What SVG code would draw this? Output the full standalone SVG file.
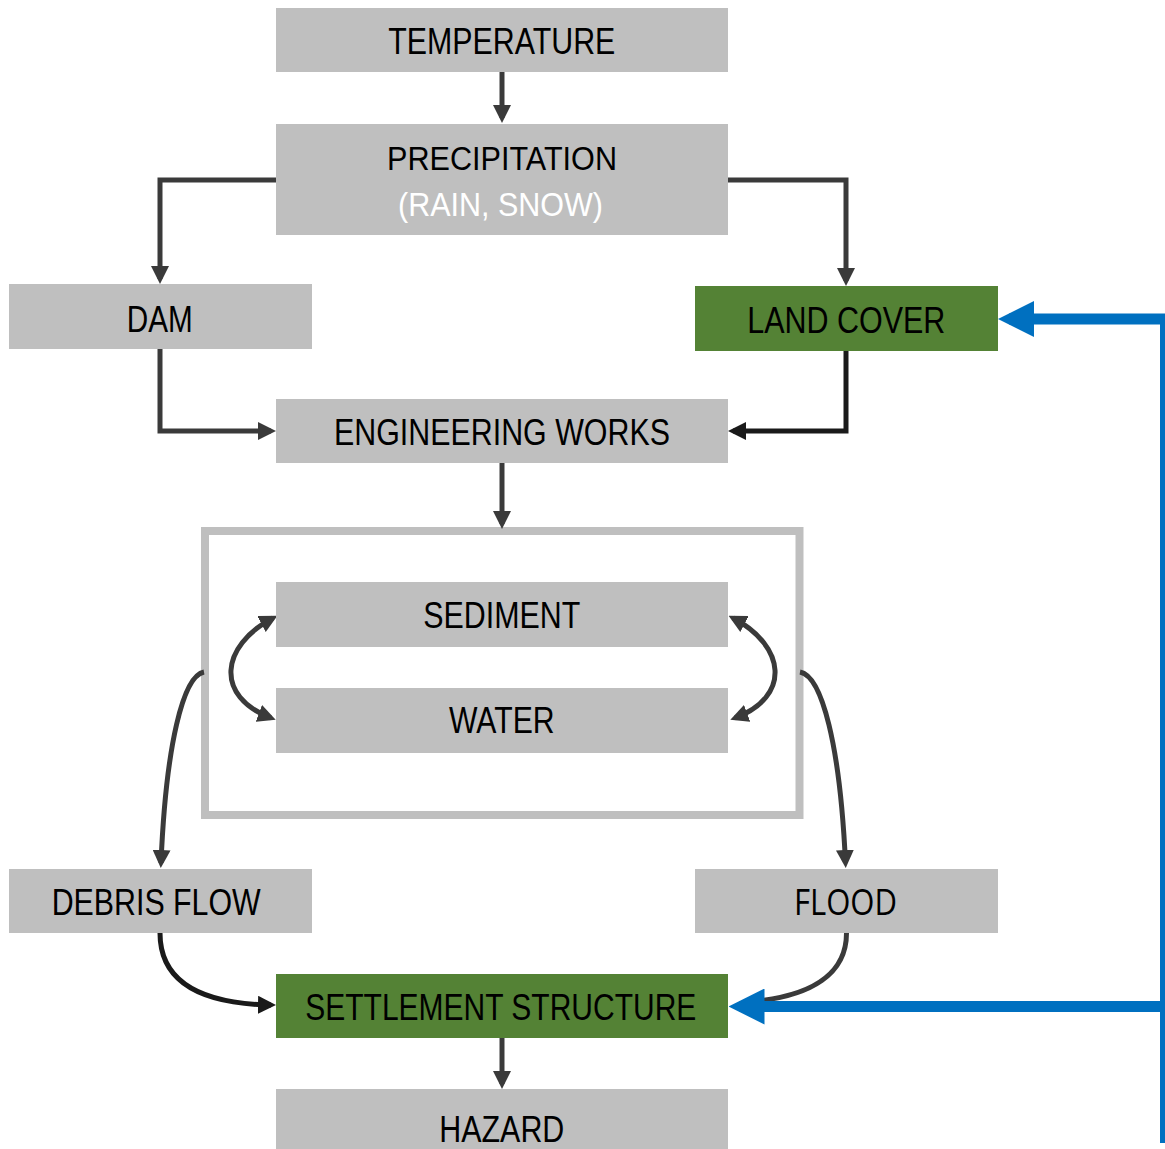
<svg xmlns="http://www.w3.org/2000/svg" width="1165" height="1149" viewBox="0 0 1165 1149">
  <style>
    .box { fill: #BFBFBF; }
    .green { fill: #548235; }
    .frame { fill: none; stroke: #BFBFBF; stroke-width: 8; }
    .lbl { font-family: "Liberation Sans Narrow", "Liberation Sans", Arial, sans-serif; font-size: 36px; fill: #000; }
    .sub { font-size: 34px; }
    .white { fill: #FFFFFF; }
    .round { font-family: "Open Sans", "Noto Sans", sans-serif; }
    .con { fill: none; stroke: #3A3A3A; stroke-width: 5; }
    .dark { stroke: #1A1A1A; }
    .blue-h { fill: none; stroke: #0070C0; stroke-width: 11; }
    .blue-v { fill: none; stroke: #0070C0; stroke-width: 5; }
  </style>
  <defs>
    <marker id="ah" markerUnits="userSpaceOnUse" markerWidth="18" markerHeight="18" refX="13" refY="9" orient="auto-start-reverse">
      <path d="M0,0 L18,9 L0,18 Z" fill="#3A3A3A"/>
    </marker>
    <marker id="ah-dark" markerUnits="userSpaceOnUse" markerWidth="18" markerHeight="18" refX="13" refY="9" orient="auto">
      <path d="M0,0 L18,9 L0,18 Z" fill="#1A1A1A"/>
    </marker>
    <marker id="ah-blue" markerUnits="userSpaceOnUse" markerWidth="36" markerHeight="36" refX="25" refY="18" orient="auto">
      <path d="M0,0 L36,18 L0,36 Z" fill="#0070C0"/>
    </marker>
  </defs>

  <!-- container around sediment / water -->
  <rect class="frame" x="205" y="531" width="594.5" height="284"/>

  <g id="connectors">
    <path class="con" d="M502,72 V118" marker-end="url(#ah)"/>
    <path class="con" d="M276,180 H160 V279" marker-end="url(#ah)"/>
    <path class="con" d="M728,180 H846 V281" marker-end="url(#ah)"/>
    <path class="con" d="M160,349 V431 H271" marker-end="url(#ah)"/>
    <path class="con dark" d="M846,351 V431 H733" marker-end="url(#ah-dark)"/>
    <path class="con" d="M502,463 V524" marker-end="url(#ah)"/>
    <!-- sediment <-> water -->
    <path class="con" d="M273,618 C220,646 214.6,696.6 271,718" marker-start="url(#ah)" marker-end="url(#ah)"/>
    <path class="con" d="M733,618 C786,646 791.4,696.6 735,718" marker-start="url(#ah)" marker-end="url(#ah)"/>
    <!-- outflows -->
    <path class="con" d="M204,672 C183,676 166,745 161,863" marker-end="url(#ah)"/>
    <path class="con" d="M800,672 C822,676 840,745 845.5,863" marker-end="url(#ah)"/>
    <path class="con dark" d="M160,933 C160,990 215,1004 271,1005" marker-end="url(#ah-dark)"/>
    <path class="con" d="M846.5,933 C846.5,975 810,995 758,1001"/>
    <path class="con" d="M502,1038 V1084" marker-end="url(#ah)"/>
    <!-- feedback lines -->
    <path class="blue-v" d="M1162.5,314 V1143"/>
    <path class="blue-h" d="M1165,319 H1009" marker-end="url(#ah-blue)"/>
    <path class="blue-h" d="M1162,1006.5 H739.5" marker-end="url(#ah-blue)"/>
  </g>

  <g id="temperature">
    <rect class="box" x="276" y="8" width="452" height="64"/>
    <text class="lbl" x="388.3" y="54" textLength="227" lengthAdjust="spacingAndGlyphs">TEMPERATURE</text>
  </g>
  <g id="precipitation">
    <rect class="box" x="276" y="124" width="452" height="111"/>
    <text class="lbl sub" x="387" y="170" textLength="230" lengthAdjust="spacingAndGlyphs">PRECIPITATION</text>
    <text class="lbl sub white" x="398" y="216" textLength="205" lengthAdjust="spacingAndGlyphs">(RAIN, SNOW)</text>
  </g>
  <g id="dam">
    <rect class="box" x="9" y="284" width="303" height="65"/>
    <text class="lbl" x="126.7" y="332" textLength="66" lengthAdjust="spacingAndGlyphs">DAM</text>
  </g>
  <g id="land-cover">
    <rect class="green" x="695" y="286" width="303" height="65"/>
    <text class="lbl" x="747.3" y="333" textLength="198" lengthAdjust="spacingAndGlyphs">LAND COVER</text>
  </g>
  <g id="engineering-works">
    <rect class="box" x="276" y="399" width="452" height="64"/>
    <text class="lbl" x="334" y="445" textLength="336" lengthAdjust="spacingAndGlyphs">ENGINEERING WORKS</text>
  </g>
  <g id="sediment">
    <rect class="box" x="276" y="582" width="452" height="65"/>
    <text class="lbl" x="423.3" y="628" textLength="157" lengthAdjust="spacingAndGlyphs">SEDIMENT</text>
  </g>
  <g id="water">
    <rect class="box" x="276" y="688" width="452" height="65"/>
    <text class="lbl" x="449" y="733" textLength="105.6" lengthAdjust="spacingAndGlyphs">WATER</text>
  </g>
  <g id="debris-flow">
    <rect class="box" x="9" y="869" width="303" height="64"/>
    <text class="lbl" x="51.7" y="915" textLength="209" lengthAdjust="spacingAndGlyphs">DEBRIS FLOW</text>
  </g>
  <g id="flood">
    <rect class="box" x="695" y="869" width="303" height="64"/>
    <text class="lbl round" x="794" y="915" textLength="103" lengthAdjust="spacingAndGlyphs">FLOOD</text>
  </g>
  <g id="settlement-structure">
    <rect class="green" x="276" y="974" width="452" height="64"/>
    <text class="lbl" x="305.3" y="1020" textLength="391" lengthAdjust="spacingAndGlyphs">SETTLEMENT STRUCTURE</text>
  </g>
  <g id="hazard">
    <rect class="box" x="276" y="1089" width="452" height="64"/>
    <text class="lbl" x="439.3" y="1142" textLength="125" lengthAdjust="spacingAndGlyphs">HAZARD</text>
  </g>
</svg>
